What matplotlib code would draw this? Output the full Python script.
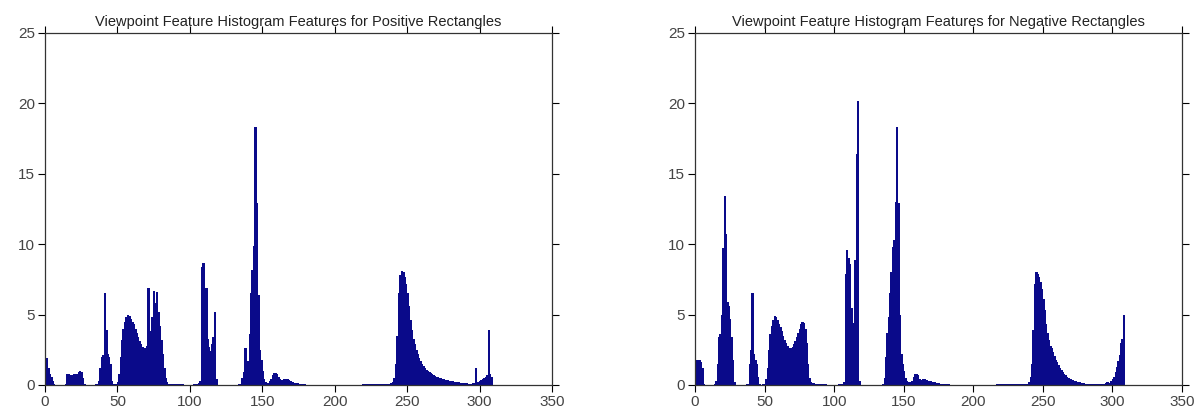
import matplotlib
matplotlib.use("Agg")
import matplotlib.pyplot as plt
import numpy as np

plt.rcParams['font.family'] = ['Liberation Sans', 'DejaVu Sans']

# VFH bins 1..308, split by feature block
# positive rectangles
pos_f1 = [1.9, 1.2, 0.8, 0.6, 0.3, 0.1, 0.02, 0.0, 0.0, 0.0,
          0.0, 0.0, 0.02, 0.1, 0.8, 0.75, 0.6, 0.7, 0.7, 0.8,
          0.7, 0.8, 0.9, 1.0, 0.9, 0.5, 0.1, 0.02, 0.0, 0.0,
          0.0, 0.0, 0.0, 0.02, 0.05, 0.1, 0.3, 1.2, 2.0, 2.1,
          6.5, 3.9, 2.2, 2.0, 1.5]
pos_f2 = [0.3, 0.05, 0.02, 0.05, 0.2, 0.8, 2.0, 3.2, 4.0, 4.5,
          4.8, 4.95, 4.9, 4.7, 4.5, 4.3, 4.0, 3.7, 3.4, 3.1,
          2.9, 2.7, 2.6, 2.6, 2.8, 6.9, 3.2, 3.8, 4.8, 6.7,
          5.8, 6.6, 5.2, 4.2, 3.2, 2.2, 1.2, 0.5, 0.2, 0.1,
          0.08, 0.06, 0.05, 0.05, 0.05]
pos_f3 = [0.05, 0.05, 0.04, 0.04, 0.04, 0.03, 0.03, 0.03, 0.03, 0.03,
          0.03, 0.03, 0.05, 0.08, 0.1, 0.15, 0.3, 8.4, 8.7, 3.0,
          6.9, 3.3, 2.7, 2.4, 2.9, 3.4, 5.2, 0.4, 0.03, 0.02,
          0.02, 0.02, 0.02, 0.02, 0.02, 0.0, 0.0, 0.0, 0.0, 0.0,
          0.0, 0.0, 0.0, 0.05, 0.1]
pos_f4 = [0.5, 0.9, 2.6, 1.3, 1.7, 3.6, 6.5, 8.2, 9.9, 18.3,
          12.9, 6.4, 2.5, 1.8, 1.0, 0.4, 0.2, 0.12, 0.15, 0.25,
          0.45, 0.7, 0.85, 0.85, 0.8, 0.55, 0.4, 0.35, 0.38, 0.45,
          0.45, 0.4, 0.32, 0.26, 0.22, 0.19, 0.16, 0.13, 0.11, 0.09,
          0.07, 0.06, 0.05, 0.04, 0.03]
pos_vp = [0.0, 0.0, 0.0, 0.0, 0.0, 0.0, 0.0, 0.0, 0.0, 0.0,
          0.0, 0.0, 0.0, 0.0, 0.0, 0.0, 0.0, 0.0, 0.0, 0.0,
          0.0, 0.0, 0.0, 0.0, 0.0, 0.0, 0.0, 0.0, 0.0, 0.0,
          0.0, 0.0, 0.0, 0.0, 0.02, 0.02, 0.03, 0.03, 0.04,
          0.05, 0.05, 0.05, 0.05, 0.05, 0.05, 0.05, 0.05, 0.05, 0.05,
          0.05, 0.05, 0.05, 0.05, 0.05, 0.05,
          0.06, 0.08, 0.1, 0.12, 0.2, 0.5, 1.5, 3.5, 6.5, 7.8,
          8.1, 8.0, 7.7, 7.2, 6.5, 5.6, 4.6, 3.9, 3.3, 2.9,
          2.5, 2.2, 1.9, 1.7, 1.5, 1.35, 1.2, 1.1, 1.0, 0.9,
          0.83, 0.76, 0.7, 0.64, 0.58, 0.54, 0.5, 0.47, 0.43, 0.4,
          0.37, 0.34, 0.32, 0.3, 0.28, 0.26, 0.24, 0.22, 0.2, 0.18,
          0.16, 0.15, 0.14, 0.13, 0.12, 0.11, 0.1, 0.1, 0.1, 0.12,
          0.15, 1.2, 0.2, 0.2, 0.3, 0.35, 0.4, 0.5, 0.6, 0.7,
          3.9, 0.8, 0.6]

# negative rectangles
neg_f1 = [1.8, 1.8, 1.75, 1.6, 1.2, 0.1, 0.03, 0.03, 0.03, 0.03,
          0.03, 0.03, 0.03, 0.05, 0.3, 1.5, 3.4, 3.6, 5.0, 9.7,
          13.4, 10.7, 5.9, 5.6, 4.7, 3.4, 1.8, 0.2, 0.03, 0.02,
          0.02, 0.02, 0.02, 0.02, 0.02, 0.03, 0.05, 0.1, 1.5, 2.5,
          6.5, 2.2, 1.8, 1.5, 0.6]
neg_f2 = [0.05, 0.02, 0.02, 0.05, 0.1, 0.4, 1.2, 2.5, 3.6, 4.2,
          4.6, 4.9, 4.8, 4.6, 4.3, 4.1, 3.8, 3.5, 3.2, 3.0,
          2.8, 2.6, 2.5, 2.6, 2.7, 2.9, 3.1, 3.4, 3.7, 4.0,
          4.3, 4.5, 4.4, 4.0, 3.0, 1.5, 0.5, 0.2, 0.15, 0.12,
          0.1, 0.1, 0.08, 0.07, 0.06]
neg_f3 = [0.05, 0.05, 0.04, 0.04, 0.03, 0.03, 0.03, 0.03, 0.03, 0.03,
          0.03, 0.03, 0.04, 0.05, 0.06, 0.08, 0.2, 7.9, 9.6, 9.0,
          8.6, 5.5, 4.4, 4.3, 8.9, 16.4, 20.2, 0.3, 0.02, 0.0,
          0.0, 0.0, 0.0, 0.0, 0.0, 0.0, 0.0, 0.0, 0.0, 0.0,
          0.0, 0.0, 0.0, 0.03, 0.1]
neg_f4 = [0.5, 2.0, 3.7, 4.8, 6.5, 8.0, 9.8, 10.3, 13.0, 18.3,
          12.9, 5.0, 2.2, 1.5, 1.0, 0.5, 0.3, 0.2, 0.2, 0.2,
          0.3, 0.6, 0.8, 0.8, 0.7, 0.45, 0.35, 0.35, 0.4, 0.4,
          0.35, 0.3, 0.28, 0.25, 0.22, 0.2, 0.18, 0.16, 0.14, 0.12,
          0.1, 0.09, 0.08, 0.07, 0.06]
neg_vp = [0.05, 0.04, 0.03, 0.02,
          0.0, 0.0, 0.0, 0.0, 0.0, 0.0, 0.0, 0.0, 0.0, 0.0,
          0.0, 0.0, 0.0, 0.0, 0.0, 0.0, 0.0, 0.0, 0.0, 0.0,
          0.0, 0.0, 0.0, 0.0, 0.0, 0.0, 0.0, 0.0, 0.0, 0.0,
          0.02, 0.03, 0.04, 0.05, 0.05,
          0.05, 0.05, 0.05, 0.05, 0.05, 0.05, 0.05, 0.05, 0.05, 0.05,
          0.05, 0.05, 0.05, 0.05, 0.05, 0.05, 0.05, 0.05, 0.06, 0.1,
          0.2, 0.6, 1.5, 3.9, 7.2, 8.05, 7.9, 7.7, 7.3, 6.8,
          6.1, 5.3, 4.3, 3.7, 3.2, 2.8, 2.6, 2.35, 2.05, 1.8,
          1.6, 1.4, 1.2, 1.05, 0.9, 0.8, 0.7, 0.6, 0.53, 0.46,
          0.4, 0.35, 0.3, 0.27, 0.24, 0.21, 0.18, 0.16, 0.14, 0.12,
          0.1, 0.08, 0.07, 0.06, 0.06, 0.06, 0.06, 0.06, 0.06, 0.06,
          0.06, 0.06, 0.06, 0.07, 0.1, 0.15, 0.2, 0.15, 0.15, 0.25,
          0.4, 0.6, 0.9, 1.3, 1.7, 2.1, 3.0, 3.3, 5.0]

positive = np.concatenate([pos_f1, pos_f2, pos_f3, pos_f4, pos_vp])
negative = np.concatenate([neg_f1, neg_f2, neg_f3, neg_f4, neg_vp])
bins = np.arange(1, len(positive) + 1)

titles = ["Viewpoint Feature Histogram Features for Positive Rectangles",
          "Viewpoint Feature Histogram Features for Negative Rectangles"]

bar_color = '#0a0a8a'
fig = plt.figure(figsize=(12.04, 4.17), dpi=100)
ax1 = fig.add_axes([45 / 1204, 32 / 417, 507 / 1204, 352 / 417])
ax2 = fig.add_axes([695 / 1204, 32 / 417, 487 / 1204, 352 / 417])

for ax, vals, title in zip([ax1, ax2], [positive, negative[:len(bins)]], titles):
    ax.bar(bins, vals, width=1.0, color=bar_color, edgecolor=bar_color,
           linewidth=0.5, antialiased=False)
    ax.set_xlim(0, 350)
    ax.set_ylim(0, 25)
    ax.set_xticks(range(0, 351, 50))
    ax.set_yticks(range(0, 26, 5))
    ax.tick_params(direction='out', length=5, width=0.8, labelsize=11,
                   labelcolor='#444444', top=True, right=True, pad=2)
    for s in ax.spines.values():
        s.set_linewidth(0.9)
        s.set_color('#333333')
    ax.set_title(title, fontsize=10.5, color='#222222', pad=5)

fig.savefig("out.png", dpi=100)
